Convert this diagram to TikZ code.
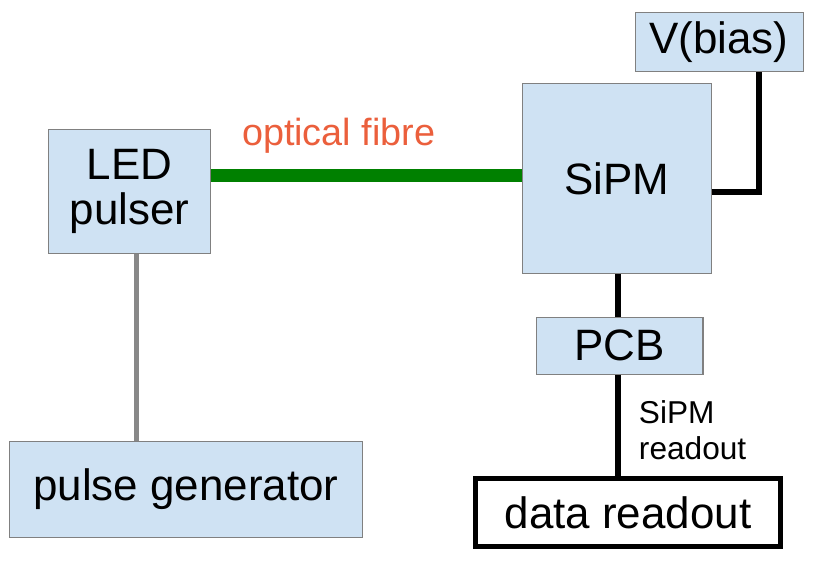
\documentclass[tikz,border=0pt]{standalone}
\usepackage{fontspec}
\setmainfont{Liberation Sans}
\definecolor{boxblue}{HTML}{CFE2F3}
\definecolor{boxgray}{HTML}{808080}
\definecolor{fibregreen}{HTML}{008000}
\definecolor{labelorange}{HTML}{EB5F3C}
\definecolor{triggergray}{HTML}{888888}

\begin{document}
\begin{tikzpicture}[x=0.02cm,y=-0.02cm,
  box/.style={draw=boxgray,line width=0.57pt,fill=boxblue,inner sep=0,align=center,
    font=\fontsize{25}{26}\selectfont},
  wire/.style={black,line width=3.4pt}]
\useasboundingbox (0,0) rectangle (813,568);
\node[box,minimum width=3.26cm,minimum height=2.5cm] (ledp) at (129.5,191.5) {LED\\pulser};
\node[box,minimum width=7.08cm,minimum height=1.92cm] (pgen) at (186,489) {pulse generator};
\node[box,minimum width=3.8cm,minimum height=3.82cm] (sipm) at (617,178.5) {SiPM};
\node[box,minimum width=3.36cm,minimum height=1.2cm] (vbias) at (719,42) {V(bias)};
\node[box,minimum width=3.34cm,minimum height=1.14cm] (pcb) at (619.5,345.5) {PCB};
\node[box,draw=black,fill=white,line width=2.8pt,minimum width=6.1cm,minimum height=1.36cm] (readout) at (628,512.5) {data readout};
\draw[fibregreen,line width=7.4pt] (ledp.11.44) -- (ledp.11.44 -| sipm.west)
  node[pos=0.41,above=0.31cm,inner sep=0,labelorange,font=\fontsize{21.5}{24}\selectfont] (fibre) {optical fibre};
\draw[triggergray,line width=2.8pt] (ledp.-84.97) -- (ledp.-84.97 |- pgen.north);
\draw[wire] (sipm.-8.09) -| (vbias.-37.57);
\draw[wire] (pcb.north -| 618,0) -- (sipm.south -| 618,0);
\draw[wire] (pcb.south -| 618,0) -- (readout.north -| 618,0)
  node[midway,right=0.36cm,yshift=-0.1cm,inner sep=0,align=left,font=\fontsize{18}{20.5}\selectfont] (rolabel) {SiPM\\readout};
\end{tikzpicture}
\end{document}
